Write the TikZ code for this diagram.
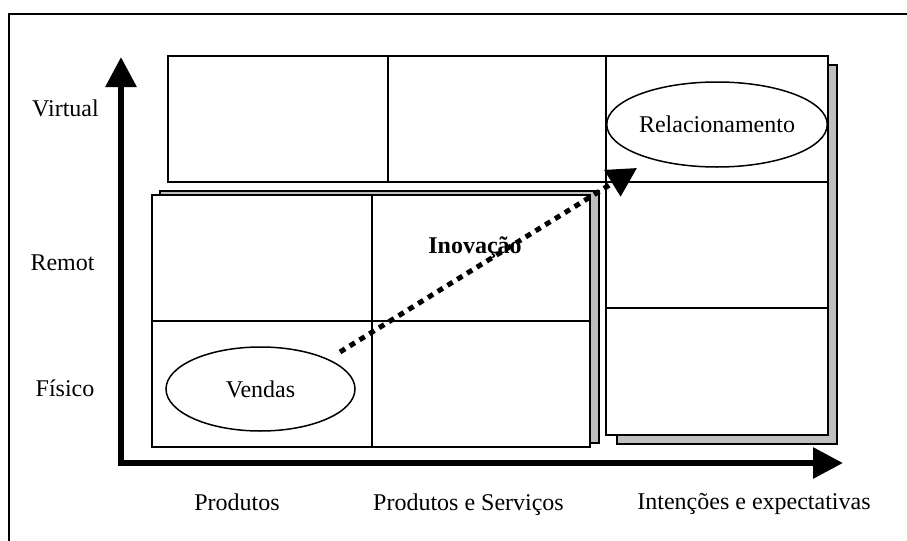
\documentclass[tikz,border=0pt]{standalone}
\usepackage{fontspec}
\setmainfont{Liberation Serif}
\usetikzlibrary{arrows.meta,shapes.geometric}
\tikzset{
  cell/.style={draw,line width=0.9pt,fill=white},
  rule/.style={line width=0.9pt},
  shadowbox/.style={draw,line width=0.6pt,fill=gray!50},
  axisline/.style={line width=3pt,line join=miter,
    {Triangle[length=15pt,width=15pt]}-{Triangle[length=15pt,width=15pt]}},
  axtext/.style={anchor=base,inner sep=0pt,font=\fontsize{12}{14}\selectfont},
  boldtext/.style={axtext,font=\fontsize{12}{14}\selectfont\bfseries},
  bubble/.style={draw,ellipse,line width=0.75pt,inner sep=0pt,
    font=\fontsize{12}{14}\selectfont},
  trend/.style={line width=2.5pt,dash pattern=on 3pt off 2.75pt,
    -{Triangle[length=14.5pt,width=15pt]}}
}
\begin{document}
\begin{tikzpicture}[x=0.5pt,y=-0.5pt]
  \useasboundingbox (0,0) rectangle (907,541);
  \draw[line width=1pt] (9,541) -- (9,14) -- (907,14);

  \draw[shadowbox] (617,65) rectangle (837,444);
  \draw[cell] (606,56) rectangle (828,435);
  \draw[rule] (606,182) -- (828,182) (606,308) -- (828,308);
  \draw[cell] (168,56) rectangle (606,182);
  \draw[rule] (388,56) -- (388,182);
  \draw[shadowbox] (160,191) rectangle (599,443);
  \draw[cell] (152,195) rectangle (590,447);
  \draw[rule] (372,195) -- (372,447) (152,321) -- (590,321);

  \coordinate (O) at (121,463);
  \draw[axisline] (121,57) -- (O) -- (843,463);

  \node[axtext] (virtual) at (65.5,116) {Virtual};
  \node[axtext] (remot) at (62.5,270) {Remot};
  \node[axtext] (fisico) at (65,396) {Físico};
  \node[axtext] (prod) at (237,510) {Produtos};
  \node[axtext] (prodserv) at (468.5,510) {Produtos e Serviços};
  \node[axtext] (intencoes) at (754,509) {Intenções e expectativas};

  \node[bubble,minimum width=94.5pt,minimum height=42pt] (vendas) at (260.5,389) {Vendas};
  \node[bubble,minimum width=94pt,minimum height=42.5pt] (relac) at (717,124.5) {Relacionamento};
  \node[boldtext] (inovacao) at (475,253) {Inovação};

  \coordinate (start) at (340,352);
  \coordinate (end) at (637,168);
  \draw[trend] (start) -- (end);
\end{tikzpicture}
\end{document}
